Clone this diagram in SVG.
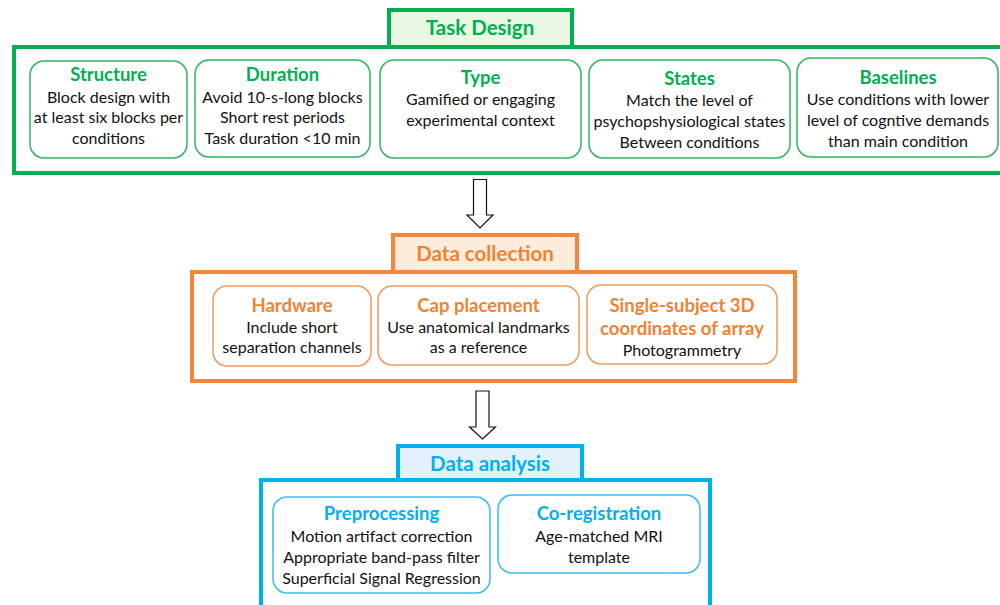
<svg xmlns="http://www.w3.org/2000/svg" width="1000" height="605" viewBox="0 0 1000 605">
<style>
text{font-family:Lato,"Liberation Sans",sans-serif;text-anchor:middle}
.b{font-size:16px;fill:#111}
.tg{font-size:18.5px;font-weight:bold;fill:#00B050}
.to{font-size:18.5px;font-weight:bold;fill:#F08332}
.tb{font-size:18.5px;font-weight:bold;fill:#00B0F0}
.hg{font-size:20.5px;font-weight:bold;fill:#00B050}
.ho{font-size:20.5px;font-weight:bold;fill:#F08332}
.hb{font-size:20.5px;font-weight:bold;fill:#00B0F0}
.og{fill:none;stroke:#00B050;stroke-width:4}
.oo{fill:none;stroke:#F5853A;stroke-width:4}
.ob{fill:none;stroke:#00B0F0;stroke-width:4}
.ig{fill:#fff;stroke:#2EB462;stroke-width:1.5}
.io{fill:#fff;stroke:#F29A5C;stroke-width:1.5}
.ib{fill:#fff;stroke:#38BDF0;stroke-width:1.5}
.arr{fill:#fff;stroke:#111;stroke-width:1.2}
</style>
<g id="task-design">
<rect class="og" x="14" y="47" width="990" height="126"/>
<rect x="389" y="10" width="183" height="37" fill="#EAF7E3" stroke="#00B050" stroke-width="4"/>
<text class="hg" x="480" y="34.5">Task Design</text>
</g>
<g id="structure">
<rect class="ig" x="30" y="61" width="157" height="97" rx="14"/>
<text class="tg" x="108.5" y="80.5">Structure</text>
<text class="b" x="108.5" y="102.5">Block design with</text>
<text class="b" x="108.5" y="123">at least six blocks per</text>
<text class="b" x="108.5" y="143.5">conditions</text>
</g>
<g id="duration">
<rect class="ig" x="195" y="60" width="175" height="97" rx="14"/>
<text class="tg" x="282.5" y="80.5">Duration</text>
<text class="b" x="282.5" y="102.5">Avoid 10-s-long blocks</text>
<text class="b" x="282.5" y="123">Short rest periods</text>
<text class="b" x="282.5" y="143.5">Task duration &lt;10 min</text>
</g>
<g id="type">
<rect class="ig" x="380" y="60" width="201" height="98" rx="14"/>
<text class="tg" x="480.5" y="83.5">Type</text>
<text class="b" x="480.5" y="104.5">Gamified or engaging</text>
<text class="b" x="480.5" y="125.5">experimental context</text>
</g>
<g id="states">
<rect class="ig" x="589" y="60" width="201" height="98" rx="14"/>
<text class="tg" x="689.5" y="84.5">States</text>
<text class="b" x="689.5" y="105.5">Match the level of</text>
<text class="b" x="689.5" y="126.5">psychopshysiological states</text>
<text class="b" x="689.5" y="147.5">Between conditions</text>
</g>
<g id="baselines">
<rect class="ig" x="797" y="58" width="201" height="99" rx="14"/>
<text class="tg" x="898" y="83.5">Baselines</text>
<text class="b" x="898" y="104.5">Use conditions with lower</text>
<text class="b" x="898" y="125.5">level of cogntive demands</text>
<text class="b" x="898" y="146.5">than main condition</text>
</g>
<g id="data-collection">
<rect class="oo" x="192" y="272" width="603" height="109"/>
<rect x="393" y="235" width="184" height="37" fill="#FDEBDC" stroke="#F5853A" stroke-width="4"/>
<text class="ho" x="485" y="260.5">Data collection</text>
</g>
<g id="hardware">
<rect class="io" x="213" y="286" width="158" height="80" rx="14"/>
<text class="to" x="292" y="311.5">Hardware</text>
<text class="b" x="292" y="332.5">Include short</text>
<text class="b" x="292" y="352.5">separation channels</text>
</g>
<g id="cap-placement">
<rect class="io" x="378" y="286" width="201" height="79" rx="14"/>
<text class="to" x="478.5" y="311.5">Cap placement</text>
<text class="b" x="478.5" y="332.5">Use anatomical landmarks</text>
<text class="b" x="478.5" y="352.5">as a reference</text>
</g>
<g id="coordinates">
<rect class="io" x="587" y="285" width="190" height="79" rx="14"/>
<text class="to" x="682" y="311.5">Single-subject 3D</text>
<text class="to" x="682" y="334.5">coordinates of array</text>
<text class="b" x="682" y="355.5">Photogrammetry</text>
</g>
<g id="data-analysis">
<rect class="ob" x="261" y="480" width="449" height="140"/>
<rect x="398" y="446" width="184" height="34" fill="#E2F1FB" stroke="#00B0F0" stroke-width="4"/>
<text class="hb" x="490" y="470.5">Data analysis</text>
</g>
<g id="preprocessing">
<rect class="ib" x="273" y="497" width="217" height="96" rx="14"/>
<text class="tb" x="381.5" y="519.5">Preprocessing</text>
<text class="b" x="381.5" y="541.5">Motion artifact correction</text>
<text class="b" x="381.5" y="562.5">Appropriate band-pass filter</text>
<text class="b" x="381.5" y="583.5">Superficial Signal Regression</text>
</g>
<g id="co-registration">
<rect class="ib" x="498" y="495" width="202" height="78" rx="14"/>
<text class="tb" x="599" y="519.5">Co-registration</text>
<text class="b" x="599" y="541.5">Age-matched MRI</text>
<text class="b" x="599" y="562.5">template</text>
</g>
<g id="connectors">
<path class="arr" d="M473.5,179.5 H486.5 V215 H493 L480,228 L467,215 H473.5 Z"/>
<path class="arr" d="M476,391 H489 V427 H495.5 L482.5,439 L469.5,427 H476 Z"/>
</g>
</svg>
